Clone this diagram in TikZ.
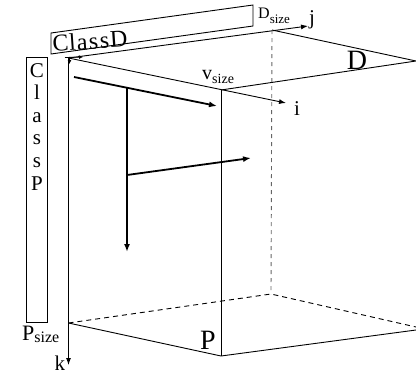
\documentclass[tikz,border=0pt]{standalone}
\usepackage{fontspec}
\setmainfont{Liberation Serif}
\usetikzlibrary{arrows.meta}
\newcommand\mysz[2]{\raisebox{-#2pt}{\fontsize{#1}{#1}\selectfont size}}
\begin{document}
\begin{tikzpicture}[x=1pt,y=-1pt,
  edge/.style={line width=0.9pt},
  hid/.style={line width=0.9pt,dash pattern=on 5pt off 4pt},
  hidv/.style={line width=0.9pt,gray!80!black,dash pattern=on 4pt off 4pt},
  axis/.style={line width=0.9pt,-{Latex[length=7pt,width=5pt]}},
  tiny/.style={line width=0.8pt,-{Latex[length=4pt,width=4pt]}},
  flow/.style={line width=1.8pt,-{Latex[length=8pt,width=6pt]}},
  lbl/.style={inner sep=0pt,anchor=base},
  cls/.style={inner sep=0pt,anchor=base,font=\fontsize{21}{21}\selectfont}]
\useasboundingbox (0,0) rectangle (416,376);
% corners
\coordinate (O) at (68.5,58);
\coordinate (A) at (221,90);
\coordinate (B) at (272,30);
\coordinate (C) at (416,61);
\coordinate (Ob) at (68.5,323);
\coordinate (Ab) at (221,356);
\coordinate (Bb) at (271,294);
\coordinate (Cs) at (416,330);
\coordinate (Cd) at (416,327);
% axis ends
\coordinate (Iend) at (286,103);
\coordinate (Jend) at (308,26);
\coordinate (Kend) at (68.5,365);
% ClassD box
\coordinate (d1) at (51,33);
\coordinate (d2) at (51,54);
\coordinate (d3) at (253,26);
\coordinate (d4) at (253,5);
\draw[edge] (d1) -- (d2) -- (d3) -- (d4) -- cycle;
% ClassP box
\coordinate (p1) at (26,57);
\coordinate (p2) at (47,322);
\draw[edge] (p1) rectangle (p2);
% axes
\draw[axis] (O) -- (Iend);
\draw[axis] (O) -- (Jend);
\draw[axis] (O) -- (Kend);
\coordinate (t0) at (65,57.5);
\coordinate (t1) at (83,57);
\coordinate (t2) at (69.5,57);
\coordinate (t3) at (69.5,64);
\draw[tiny] (t0) -- (t1);
\draw[tiny] (t2) -- (t3);
% box edges
\draw[edge] (A) -- (C) -- (B);
\draw[edge] (A) -- (Ab);
\draw[edge] (Ob) -- (Ab) -- (Cs);
\draw[hid] (Ob) -- (Bb) -- (Cd);
\draw[hidv] (B) -- (Bb);
% inner flows
\coordinate (f1s) at (74,77);
\coordinate (f1e) at (217,106);
\coordinate (f2s) at (127,87.8);
\coordinate (f2e) at (127,252);
\coordinate (f3s) at (127,175);
\coordinate (f3e) at (251,158);
\draw[flow] (f1s) -- (f1e);
\draw[flow] (f2s) -- (f2e);
\draw[flow] (f3s) -- (f3e);
% labels
\node[lbl,anchor=base west,font=\fontsize{20}{20}\selectfont] (vs) at (202,79) {v\mysz{14}{4}};
\node[lbl,anchor=base west,font=\fontsize{16}{16}\selectfont] (ds) at (258,18) {D\mysz{13}{5}};
\node[lbl,anchor=base west,font=\fontsize{22}{22}\selectfont] (ps) at (22,340) {P\mysz{16}{2}};
\node[lbl,font=\fontsize{21}{21}\selectfont] (lj) at (312,24) {j};
\node[lbl,font=\fontsize{21}{21}\selectfont] (li) at (297,115) {i};
\node[lbl,font=\fontsize{21}{21}\selectfont] (lk) at (60,370) {k};
\node[inner sep=0pt,font=\fontsize{28}{28}\selectfont] (lD) at (357,60) {D};
\node[inner sep=0pt,font=\fontsize{28}{28}\selectfont] (lP) at (208,340) {P};
\node[inner sep=0pt,font=\fontsize{24}{24}\selectfont,rotate=4] (cd) at (90,41) {C\kern0.5pt l\kern1pt a\kern1.5pt s\kern1.5pt s\kern1pt D};
\node[cls] (c1) at (37,77) {C};
\node[cls] (c2) at (37,99.5) {l};
\node[cls] (c3) at (37,122) {a};
\node[cls] (c4) at (37,144.5) {s};
\node[cls] (c5) at (37,167) {s};
\node[cls] (c6) at (37,190) {P};
\end{tikzpicture}
\end{document}
